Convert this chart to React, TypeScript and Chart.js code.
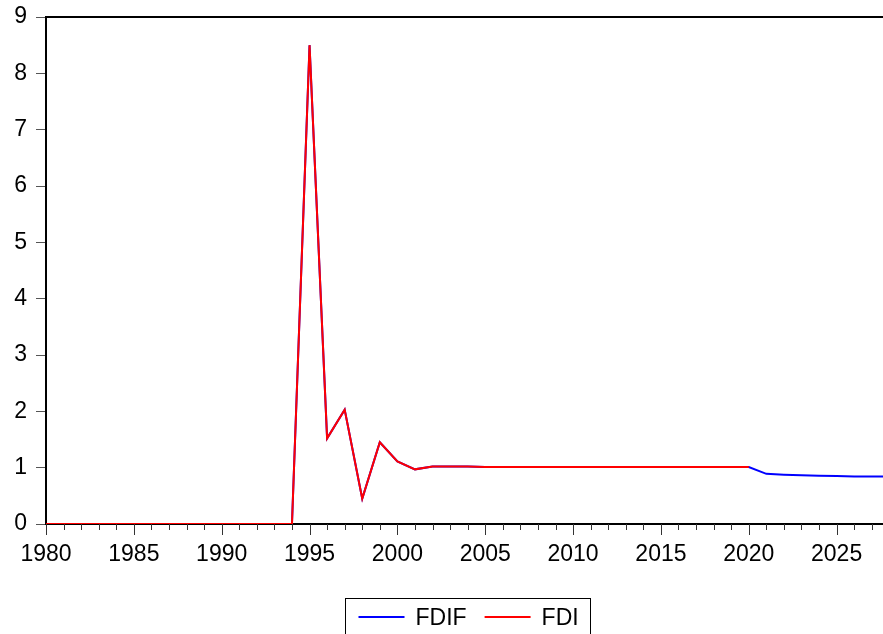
import React, { useEffect, useRef } from "react";
import { Chart, registerables } from "chart.js";

Chart.register(...registerables);

// Sample years on the horizontal axis
const years = [
  1980, 1981, 1982, 1983, 1984, 1985, 1986, 1987, 1988, 1989,
  1990, 1991, 1992, 1993, 1994, 1995, 1996, 1997, 1998, 1999,
  2000, 2001, 2002, 2003, 2004, 2005, 2006, 2007, 2008, 2009,
  2010, 2011, 2012, 2013, 2014, 2015, 2016, 2017, 2018, 2019,
  2020, 2021, 2022, 2023, 2024, 2025, 2026, 2027, 2028,
];

// Actual FDI, 1980–2020
const fdiValues = [
  0, 0, 0, 0, 0, 0, 0, 0, 0, 0,
  0, 0, 0, 0, 0, 8.5, 1.52, 2.03, 0.45, 1.45,
  1.11, 0.97, 1.02, 1.02, 1.02, 1.01, 1.01, 1.01, 1.01, 1.01,
  1.01, 1.01, 1.01, 1.01, 1.01, 1.01, 1.01, 1.01, 1.01, 1.01,
  1.01,
];

// Forecast FDIF, 1980–2028
const fdifValues = [
  0, 0, 0, 0, 0, 0, 0, 0, 0, 0,
  0, 0, 0, 0, 0, 8.5, 1.52, 2.03, 0.45, 1.45,
  1.11, 0.97, 1.02, 1.02, 1.02, 1.01, 1.01, 1.01, 1.01, 1.01,
  1.01, 1.01, 1.01, 1.01, 1.01, 1.01, 1.01, 1.01, 1.01, 1.01,
  1.01, 0.89, 0.875, 0.865, 0.855, 0.85, 0.845, 0.845, 0.845,
];

const xTickYears = [1980, 1985, 1990, 1995, 2000, 2005, 2010, 2015, 2020, 2025];
const yTickValues = [0, 1, 2, 3, 4, 5, 6, 7, 8, 9];

const seriesNames = ["FDIF", "FDI"];
const seriesColors = ["#0000ff", "#ff0000"];

const FONT = "'Liberation Sans', Arial, Helvetica, sans-serif";
const FONT_SIZE = 23;

// Minor (yearly) and major (every 5 years) tick marks below the x axis,
// plus the frame line along the top of the plot.
const axisDecor = {
  id: "axisDecor",
  afterDraw(chart: any) {
    const { ctx, chartArea } = chart;
    const xs = chart.scales.x;
    ctx.save();
    ctx.strokeStyle = "#333";
    ctx.lineWidth = 1;
    for (let v = Math.ceil(xs.min); v <= Math.floor(xs.max); v++) {
      const px = Math.round(xs.getPixelForValue(v)) + 0.5;
      const len = v % 5 === 0 ? 11 : 6;
      ctx.beginPath();
      ctx.moveTo(px, chartArea.bottom);
      ctx.lineTo(px, chartArea.bottom + len);
      ctx.stroke();
    }
    ctx.strokeStyle = "#000";
    ctx.lineWidth = 2;
    ctx.beginPath();
    ctx.moveTo(chartArea.left, chartArea.top);
    ctx.lineTo(chartArea.right, chartArea.top);
    ctx.stroke();
    ctx.restore();
  },
};

// Boxed legend under the plot
const boxedLegend = {
  id: "boxedLegend",
  afterDraw(chart: any) {
    const { ctx } = chart;
    const boxLeft = 345.5;
    const boxRight = 590.5;
    const boxTop = 598.5;
    const rowY = 617;
    ctx.save();
    ctx.strokeStyle = "#000";
    ctx.lineWidth = 1;
    ctx.strokeRect(boxLeft, boxTop, boxRight - boxLeft, 60);
    ctx.font = `${FONT_SIZE}px ${FONT}`;
    ctx.textBaseline = "alphabetic";
    ctx.fillStyle = "#000";
    let x = boxLeft + 13;
    chart.data.datasets.forEach((ds: any) => {
      ctx.strokeStyle = ds.borderColor;
      ctx.lineWidth = 2;
      ctx.beginPath();
      ctx.moveTo(x, rowY);
      ctx.lineTo(x + 46, rowY);
      ctx.stroke();
      const tx = x + 57;
      ctx.fillText(ds.label, tx, rowY + 8);
      x = tx + ctx.measureText(ds.label).width + 18;
    });
    ctx.restore();
  },
};

export default function App() {
  const canvasRef = useRef<HTMLCanvasElement | null>(null);

  useEffect(() => {
    if (!canvasRef.current) return;
    const toPoints = (vals: number[]) => vals.map((y, i) => ({ x: years[i], y }));
    const chart = new Chart(canvasRef.current, {
      type: "line",
      data: {
        datasets: [
          {
            label: seriesNames[0],
            data: toPoints(fdifValues),
            borderColor: seriesColors[0],
            backgroundColor: seriesColors[0],
            borderWidth: 2,
            pointRadius: 0,
            tension: 0,
            order: 1,
          },
          {
            label: seriesNames[1],
            data: toPoints(fdiValues),
            borderColor: seriesColors[1],
            backgroundColor: seriesColors[1],
            borderWidth: 2,
            pointRadius: 0,
            tension: 0,
            order: 0,
          },
        ],
      },
      options: {
        animation: false,
        responsive: false,
        maintainAspectRatio: false,
        devicePixelRatio: 1,
        layout: { padding: { top: 17, right: 0, left: 0, bottom: 0 } },
        plugins: {
          legend: { display: false },
          tooltip: { enabled: false },
        },
        scales: {
          x: {
            type: "linear",
            min: 1980,
            max: 2027.64,
            afterFit: (scale: any) => {
              scale.height = 110;
              scale.paddingLeft = 0;
              scale.paddingRight = 0;
            },
            afterBuildTicks: (scale: any) => {
              scale.ticks = xTickYears.map((v) => ({ value: v }));
            },
            grid: { display: true, drawOnChartArea: false, drawTicks: false },
            border: { display: true, color: "#000", width: 2 },
            ticks: {
              color: "#000",
              font: { family: FONT, size: FONT_SIZE },
              padding: 17,
              maxRotation: 0,
              autoSkip: false,
              callback: (v: any) => String(v),
            },
          },
          y: {
            type: "linear",
            min: 0,
            max: 9,
            afterFit: (scale: any) => {
              scale.width = 46;
              scale.paddingTop = 0;
              scale.paddingBottom = 0;
            },
            afterBuildTicks: (scale: any) => {
              scale.ticks = yTickValues.map((v) => ({ value: v }));
            },
            grid: {
              display: true,
              drawOnChartArea: false,
              drawTicks: true,
              tickLength: 10,
              tickColor: "#555",
              tickWidth: 1,
            },
            border: { display: true, color: "#000", width: 2 },
            ticks: {
              color: "#000",
              font: { family: FONT, size: FONT_SIZE },
              padding: 9,
              callback: (v: any) => String(v),
            },
          },
        },
      },
      plugins: [axisDecor, boxedLegend],
    });
    return () => chart.destroy();
  }, []);

  return (
    <div style={{ position: "fixed", left: 0, top: 0, width: 883, height: 634, background: "#fff" }}>
      <canvas ref={canvasRef} width={883} height={634} style={{ display: "block" }} />
    </div>
  );
}
